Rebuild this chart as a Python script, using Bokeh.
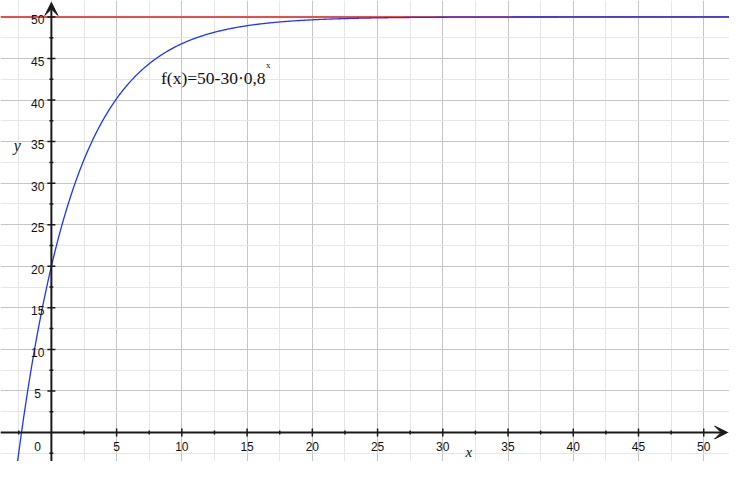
import numpy as np
from bokeh.plotting import figure
from bokeh.models import Range1d, Grid, FixedTicker, Span, Arrow, VeeHead, ColumnDataSource
from bokeh.core.properties import value
from bokeh.embed import file_html
from bokeh.resources import INLINE

# ---- data ----
base = 50.0      # asymptote
coef = 30.0
rate = 0.8
x_ticks = [5, 10, 15, 20, 25, 30, 35, 40, 45, 50]
x_tick_labels = ["5", "10", "15", "20", "25", "30", "35", "40", "45", "50"]
y_ticks = [5, 10, 15, 20, 25, 30, 35, 40, 45, 50]
y_tick_labels = ["5", "10", "15", "20", "25", "30", "35", "40", "45", "50"]
x_minor = [-2.5, 2.5, 7.5, 12.5, 17.5, 22.5, 27.5, 32.5, 37.5, 42.5, 47.5]
y_minor = [-2.5, 2.5, 7.5, 12.5, 17.5, 22.5, 27.5, 32.5, 37.5, 42.5, 47.5]
grid_major = [-5, 0, 5, 10, 15, 20, 25, 30, 35, 40, 45, 50, 55]
grid_minor = [-2.5, 2.5, 7.5, 12.5, 17.5, 22.5, 27.5, 32.5, 37.5, 42.5, 47.5, 52.5]

X0, X1 = -3.9, 51.975
Y0, Y1 = -3.488, 51.977

p = figure(width=729, height=461, output_backend="svg", toolbar_location=None,
           x_range=Range1d(X0, X1), y_range=Range1d(Y0, Y1),
           x_axis_location=None, y_axis_location=None,
           min_border=0, outline_line_color=None, background_fill_color="white")

for dim in (0, 1):
    g = Grid(dimension=dim,
             ticker=FixedTicker(ticks=grid_major, minor_ticks=grid_minor),
             grid_line_color="#c6c6c6", grid_line_width=1,
             minor_grid_line_color="#e6e6e6", minor_grid_line_width=1)
    p.add_layout(g)

# asymptote (below the curve)
p.add_layout(Span(location=base, dimension="width", line_color="#ee4b4b", line_width=2,
                  level="underlay"))

# curve
xs = np.linspace(X0, X1, 800)
ys = base - coef * rate ** xs
p.line(xs, ys, line_color="#1f35ff", line_width=1.3)

# axes with arrows
AX = "#1a1a1a"
p.add_layout(Arrow(x_start=X0, y_start=0, x_end=51.83, y_end=0, line_color=AX, line_width=2,
                   end=VeeHead(size=13, line_color=AX, fill_color=AX, line_width=1)))
p.add_layout(Arrow(x_start=0, y_start=Y0, x_end=0, y_end=51.74, line_color=AX, line_width=2,
                   end=VeeHead(size=13, line_color=AX, fill_color=AX, line_width=1)))

# tick marks
zeros_major = [0] * len(x_ticks)
p.scatter(x_ticks, zeros_major, marker="dash", size=8, angle=np.pi / 2, line_color=AX, line_width=1.5)
p.scatter(x_minor, [0] * len(x_minor), marker="dash", size=4, angle=np.pi / 2, line_color=AX, line_width=1.5)
p.scatter([0] * len(y_ticks), y_ticks, marker="dash", size=8, line_color=AX, line_width=1.5)
p.scatter([0] * len(y_minor), y_minor, marker="dash", size=4, line_color=AX, line_width=1.5)

# tick labels
xsrc = ColumnDataSource(dict(x=x_ticks, y=zeros_major, t=x_tick_labels))
p.text(x="x", y="y", text="t", source=xsrc, text_align="center", text_baseline="middle",
       y_offset=14, text_font=value("Liberation Sans"), text_font_size="12px", text_color="#111111")
ysrc = ColumnDataSource(dict(x=[0] * len(y_ticks), y=y_ticks, t=y_tick_labels))
p.text(x="x", y="y", text="t", source=ysrc, text_align="center", text_baseline="middle",
       x_offset=-13.7, y_offset=3, text_font=value("Liberation Sans"), text_font_size="12px",
       text_color="#111111")
p.text(x=[0], y=[0], text=["0"], text_align="center", text_baseline="middle",
       x_offset=-13.7, y_offset=14, text_font=value("Liberation Sans"), text_font_size="12px",
       text_color="#111111")

# axis names
p.text(x=[0], y=[35], text=["y"], text_align="center", text_baseline="alphabetic",
       x_offset=-34, y_offset=4, text_font=value("Liberation Serif"), text_font_style="italic",
       text_font_size="16px", text_color="#111111")
p.text(x=[32.0], y=[0], text=["x"], text_align="center", text_baseline="alphabetic",
       y_offset=19, text_font=value("Liberation Serif"), text_font_style="italic",
       text_font_size="15px", text_color="#111111")

# function label
p.text(x=[8.4], y=[42.67], text=["f(x)=50-30·0,8"], text_align="left", text_baseline="alphabetic",
       text_font=value("Liberation Serif"), text_font_size="17.5px", text_color="#111111")
p.text(x=[16.45], y=[44.25], text=["x"], text_align="left", text_baseline="alphabetic",
       text_font=value("Liberation Serif"), text_font_size="9px", text_color="#111111")

open("out.html", "w").write(file_html(p, INLINE))
